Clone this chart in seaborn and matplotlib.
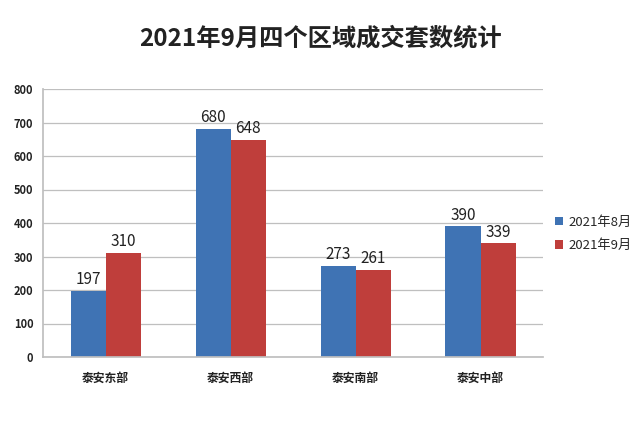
import matplotlib
matplotlib.use("Agg")
import matplotlib.pyplot as plt
import seaborn as sns
import pandas as pd

regions = ["泰安东部", "泰安西部", "泰安南部", "泰安中部"]
series = ["2021年8月", "2021年9月"]
aug = [197, 680, 273, 390]
sep = [310, 648, 261, 339]
colors = ["#3f73b4", "#bf3e3b"]

df = pd.DataFrame({
    "region": regions * 2,
    "series": [series[0]] * 4 + [series[1]] * 4,
    "value": aug + sep,
})

sns.set_theme(style="white")
plt.rcParams['font.family'] = ['Noto Sans CJK SC', 'DejaVu Sans']

fig = plt.figure(figsize=(6.4, 4.22), dpi=100)
ax = fig.add_axes([43/640, (422-357)/422, (543-43)/640, (357-89)/422])
sns.barplot(data=df, x="region", y="value", hue="series", palette=colors,
            width=0.56, gap=0, saturation=1, ax=ax, edgecolor="none")

for c in ax.containers:
    ax.bar_label(c, labels=[f"{int(v)}" for v in c.datavalues], padding=2,
                 fontsize=11, color="#222222")

ax.set_ylim(0, 800)
ax.set_yticks(range(0, 801, 100))
ax.set_xlim(-0.5, 3.5)
ax.yaxis.grid(True, color="#bfbfbf", linewidth=0.9)
ax.set_axisbelow(True)
for s in ["top", "right"]:
    ax.spines[s].set_visible(False)
ax.spines["left"].set_color("#bfbfbf")
ax.spines["bottom"].set_color("#bfbfbf")
ax.set_xlabel("")
ax.set_ylabel("")
ax.tick_params(axis="y", labelsize=8, length=0, pad=7)
ax.tick_params(axis="x", labelsize=8.5, length=0, pad=11)
for t in ax.get_yticklabels() + ax.get_xticklabels():
    t.set_fontweight("bold")
    t.set_color("#222222")

leg = ax.legend(loc="center left", bbox_to_anchor=(1.0, 0.46), frameon=False,
                fontsize=9.5, handlelength=0.6, handleheight=0.6,
                handletextpad=0.4, labelspacing=0.8)

fig.suptitle("2021年9月四个区域成交套数统计", x=0.5, y=0.91, va="center",
             fontsize=17.5, fontweight="bold", color="#222222")

fig.savefig("out.png", dpi=100, facecolor="white")
